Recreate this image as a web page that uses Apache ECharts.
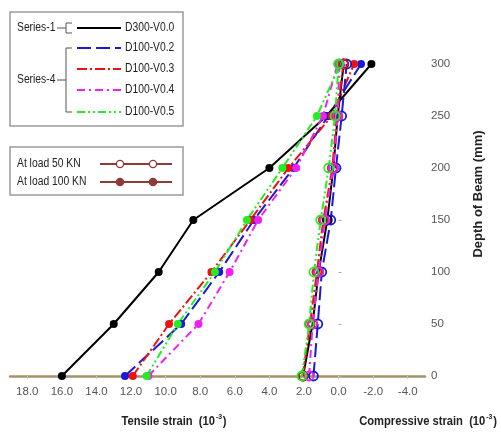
<!DOCTYPE html>
<html>
<head>
<meta charset="utf-8">
<script src="https://cdn.jsdelivr.net/npm/echarts@6/dist/echarts.min.js"></script>
<style>
  html, body { margin: 0; padding: 0; background: #fff; }
  #chart { width: 501px; height: 437px; }
</style>
</head>
<body>
<div id="chart"></div>
<script>
// Depth positions along the beam (mm)
const depths = [0, 50, 100, 150, 200, 250, 300];

// Strain (x 10^-3) at load 100 KN
const d300v00_100 = [16.0, 13.0, 10.4, 8.4, 4.0, 0.7, -1.9];
const d100v02_100 = [12.35, 9.1, 6.9, 4.9, 2.6, 0.6, -1.3];
const d100v03_100 = [11.9, 9.8, 7.35, 5.1, 2.9, 0.4, -0.9];
const d100v04_100 = [11.0, 8.1, 6.3, 4.65, 2.45, 0.9, 0.05];
const d100v05_100 = [11.1, 9.3, 7.15, 5.3, 3.25, 1.25, -0.1];

// Strain (x 10^-3) at load 50 KN
const d300v00_50 = [2.05, 1.5, 1.15, 0.65, 0.3, 0.05, -0.3];
const d100v02_50 = [1.45, 1.2, 0.97, 0.45, 0.15, -0.18, -0.47];
const d100v03_50 = [2.07, 1.65, 1.25, 0.88, 0.36, 0.1, -0.28];
const d100v04_50 = [1.7, 1.5, 1.15, 0.8, 0.3, 0.05, -0.05];
const d100v05_50 = [2.12, 1.7, 1.42, 1.03, 0.57, 0.2, 0.0];

// Tick labels
const strainTicks = [18, 16, 14, 12, 10, 8, 6, 4, 2, 0, -2, -4];
const depthTicks = [0, 50, 100, 150, 200, 250, 300];

const specimens = [
  { name: 'D300-V0.0', color: '#000000', dash: 'solid', s100: d300v00_100, s50: d300v00_50 },
  { name: 'D100-V0.2', color: '#1a1ad6', dash: [14, 5], s100: d100v02_100, s50: d100v02_50 },
  { name: 'D100-V0.3', color: '#ee1111', dash: [10, 3, 2, 3], s100: d100v03_100, s50: d100v03_50 },
  { name: 'D100-V0.4', color: '#ee22ee', dash: [8, 4, 2, 4], s100: d100v04_100, s50: d100v04_50 },
  { name: 'D100-V0.5', color: '#22ee22', dash: [8, 3, 2, 3, 2, 3], s100: d100v05_100, s50: d100v05_50 }
];

const FONT = '"Liberation Sans", Arial, sans-serif';
const AXIS_COLOR = '#a39366';
const LOAD_COLOR = '#8e3b36';
const NARROW = 0.86; // horizontal squeeze for a condensed look

const toPairs = arr => arr.map((s, i) => [s, depths[i]]);

const series = [];
specimens.forEach(sp => {
  series.push({
    name: sp.name + ' 100KN',
    type: 'line',
    data: toPairs(sp.s100),
    symbol: 'circle',
    symbolSize: 8,
    itemStyle: { color: sp.color },
    lineStyle: { color: sp.color, width: 2, type: sp.dash },
    z: 3,
    animation: false
  });
});
specimens.forEach(sp => {
  series.push({
    name: sp.name + ' 50KN',
    type: 'line',
    data: toPairs(sp.s50),
    symbol: 'circle',
    symbolSize: 9,
    itemStyle: { color: 'rgba(255,255,255,0)', borderColor: sp.color, borderWidth: 1.8 },
    lineStyle: { color: sp.color, width: 2, type: sp.dash },
    z: 4,
    animation: false
  });
});

// Vertical reference line at zero strain
series[0].markLine = {
  silent: true,
  symbol: 'none',
  label: { show: false },
  lineStyle: { color: AXIS_COLOR, width: 2.2, type: 'solid' },
  data: [[{ coord: [0, 0] }, { coord: [0, 352] }]],
  z: 1
};

function label(text, x, y, size) {
  return {
    type: 'text', x: x, y: y, scaleX: NARROW,
    style: { text: text, font: size + 'px ' + FONT, fill: '#222', textVerticalAlign: 'middle' }, z: 11
  };
}

// Legend drawn as graphic elements
const legendGraphics = [];
const box1 = { x: 10, y: 12, w: 173, h: 114 };
legendGraphics.push({
  type: 'rect', shape: { x: box1.x, y: box1.y, width: box1.w, height: box1.h },
  style: { fill: '#fff', stroke: '#9a9a9a', lineWidth: 1.5 }, z: 10
});
const rowY = [28, 48, 69, 90, 112];
specimens.forEach((sp, i) => {
  legendGraphics.push({
    type: 'line', shape: { x1: 77, y1: rowY[i], x2: 121, y2: rowY[i] },
    style: { stroke: sp.color, lineWidth: 2.2, lineDash: sp.dash === 'solid' ? null : sp.dash }, z: 11
  });
  legendGraphics.push(label(sp.name, 125, rowY[i], 12));
});
// Group labels with brackets
const bracketStroke = { stroke: '#555', lineWidth: 1, fill: null };
legendGraphics.push(label('Series-1', 17, 28, 12));
legendGraphics.push({ type: 'polyline', shape: { points: [[57, 28], [66, 28]] }, style: bracketStroke, z: 11 });
legendGraphics.push({ type: 'polyline', shape: { points: [[72, 23], [66, 23], [66, 33], [72, 33]] }, style: bracketStroke, z: 11 });
legendGraphics.push(label('Series-4', 17, 80, 12));
legendGraphics.push({ type: 'polyline', shape: { points: [[57, 80], [66, 80]] }, style: bracketStroke, z: 11 });
legendGraphics.push({ type: 'polyline', shape: { points: [[72, 48], [66, 48], [66, 112], [72, 112]] }, style: bracketStroke, z: 11 });

const box2 = { x: 10, y: 147, w: 173, h: 48 };
legendGraphics.push({
  type: 'rect', shape: { x: box2.x, y: box2.y, width: box2.w, height: box2.h },
  style: { fill: '#fff', stroke: '#9a9a9a', lineWidth: 1.5 }, z: 10
});
const loadRows = [
  { label: 'At load 50 KN', y: 164, fill: '#fff' },
  { label: 'At load 100 KN', y: 182, fill: LOAD_COLOR }
];
loadRows.forEach(r => {
  legendGraphics.push(label(r.label, 17, r.y, 12));
  legendGraphics.push({ type: 'line', shape: { x1: 100, y1: r.y, x2: 172, y2: r.y }, style: { stroke: LOAD_COLOR, lineWidth: 2.2 }, z: 11 });
  [120, 153].forEach(cx => {
    legendGraphics.push({ type: 'circle', shape: { cx: cx, cy: r.y, r: 3.6 }, style: { fill: r.fill, stroke: LOAD_COLOR, lineWidth: 1.3 }, z: 12 });
  });
});

// Axis titles under the strain axis
function axisTitle(text, x) {
  return {
    type: 'text', x: x, y: 421, scaleX: NARROW,
    style: {
      text: text,
      font: 'bold 13px ' + FONT, fill: '#222', textAlign: 'center', textVerticalAlign: 'middle',
      rich: { sup: { fontSize: 8, fontWeight: 'bold', fontFamily: FONT, verticalAlign: 'top', padding: [0, 1, 8, 1], fill: '#222' } }
    }, z: 11
  };
}
legendGraphics.push(axisTitle('Tensile strain  (10{sup|-3})', 174));
legendGraphics.push(axisTitle('Compressive strain  (10{sup|-3})', 428));

const chart = echarts.init(document.getElementById('chart'), null, { renderer: 'canvas' });
chart.setOption({
  backgroundColor: '#fff',
  animation: false,
  grid: { left: 10, right: 76, top: 12, bottom: 61, containLabel: false },
  xAxis: {
    type: 'value',
    inverse: true,
    min: -5,
    max: 19,
    axisLine: { show: true, onZero: false, lineStyle: { color: AXIS_COLOR, width: 2.5 } },
    axisTick: { show: true, customValues: strainTicks, length: 3, inside: false, lineStyle: { color: '#c8c8c8' } },
    axisLabel: {
      customValues: strainTicks,
      formatter: v => v.toFixed(1),
      color: '#555', fontSize: 11.5, fontFamily: FONT, margin: 10
    },
    splitLine: { show: false }
  },
  yAxis: {
    type: 'value',
    position: 'right',
    min: 0,
    max: 350,
    name: 'Depth of Beam (mm)',
    nameLocation: 'middle',
    nameRotate: 90,
    nameGap: 47,
    nameTextStyle: { fontFamily: FONT, fontWeight: 'bold', fontSize: 13, color: '#222' },
    axisLine: { show: false },
    axisTick: { show: true, customValues: depthTicks, length: 3, inside: false, lineStyle: { color: '#aaa' } },
    axisLabel: { customValues: depthTicks, color: '#555', fontSize: 11.5, fontFamily: FONT, margin: 6 },
    splitLine: { show: false }
  },
  graphic: legendGraphics,
  series: series
});
</script>
</body>
</html>
